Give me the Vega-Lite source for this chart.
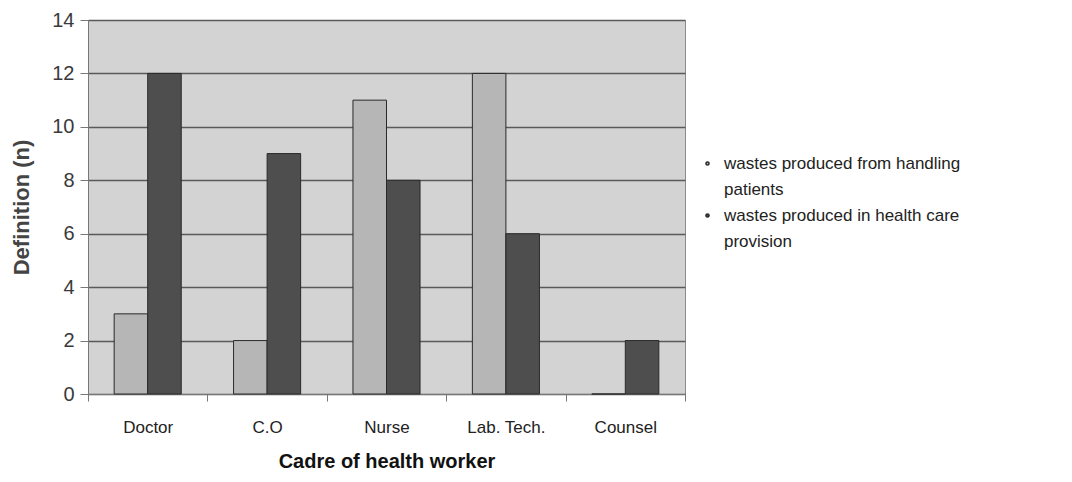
{
  "$schema": "https://vega.github.io/schema/vega-lite/v6.json",
  "width": 597,
  "height": 374,
  "autosize": "none",
  "padding": {"left": 88, "top": 20, "right": 387, "bottom": 88},
  "background": "white",
  "config": {
    "font": "Liberation Sans",
    "view": {"fill": "#d3d3d3", "stroke": "#8a8a8a", "strokeWidth": 1},
    "style": {"guide-label": {"lineHeight": 26}}
  },
  "data": {
    "values": [
      {"cadre": "Doctor", "series": "wastes produced from handling patients", "n": 3},
      {"cadre": "Doctor", "series": "wastes produced in health care provision", "n": 12},
      {"cadre": "C.O", "series": "wastes produced from handling patients", "n": 2},
      {"cadre": "C.O", "series": "wastes produced in health care provision", "n": 9},
      {"cadre": "Nurse", "series": "wastes produced from handling patients", "n": 11},
      {"cadre": "Nurse", "series": "wastes produced in health care provision", "n": 8},
      {"cadre": "Lab. Tech.", "series": "wastes produced from handling patients", "n": 12},
      {"cadre": "Lab. Tech.", "series": "wastes produced in health care provision", "n": 6},
      {"cadre": "Counsel", "series": "wastes produced from handling patients", "n": 0},
      {"cadre": "Counsel", "series": "wastes produced in health care provision", "n": 2}
    ]
  },
  "mark": {"type": "bar", "stroke": "#2a2a2a", "strokeWidth": 1},
  "encoding": {
    "x": {
      "field": "cadre",
      "type": "nominal",
      "sort": ["Doctor", "C.O", "Nurse", "Lab. Tech.", "Counsel"],
      "scale": {"paddingInner": 0, "paddingOuter": 0},
      "axis": {
        "title": "Cadre of health worker",
        "titleFontSize": 20,
        "titleFontWeight": "bold",
        "titleColor": "#111",
        "titlePadding": 16,
        "labelAngle": 0,
        "labelFontSize": 17,
        "labelColor": "#222",
        "labelPadding": 18,
        "tickBand": "extent",
        "tickSize": 7,
        "tickColor": "#777",
        "domainColor": "#777",
        "grid": false
      }
    },
    "xOffset": {
      "field": "series",
      "type": "nominal",
      "sort": ["wastes produced from handling patients", "wastes produced in health care provision"],
      "scale": {"paddingInner": 0, "paddingOuter": 0.78}
    },
    "y": {
      "field": "n",
      "type": "quantitative",
      "scale": {"domain": [0, 14], "nice": false},
      "axis": {
        "title": "Definition (n)",
        "titleFontSize": 22,
        "titleFontWeight": "bold",
        "titleColor": "#444",
        "titlePadding": 18,
        "values": [0, 2, 4, 6, 8, 10, 12, 14],
        "labelFontSize": 20,
        "labelColor": "#3a3a3a",
        "labelPadding": 6,
        "tickSize": 8,
        "tickColor": "#777",
        "domainColor": "#777",
        "grid": true,
        "gridColor": "#5a5a5a",
        "gridWidth": 1.3
      }
    },
    "color": {
      "field": "series",
      "type": "nominal",
      "sort": ["wastes produced from handling patients", "wastes produced in health care provision"],
      "scale": {"range": ["#b6b6b6", "#4e4e4e"]},
      "legend": {
        "title": null,
        "orient": "none",
        "legendX": 611,
        "legendY": 135,
        "symbolType": "circle",
        "symbolSize": 10,
        "labelFontSize": 17,
        "labelColor": "#222",
        "labelLimit": 400,
        "labelOffset": 8,
        "rowPadding": 8,
        "labelExpr": "datum.label == 'wastes produced from handling patients' ? ['wastes produced from handling', 'patients'] : ['wastes produced in health care', 'provision']",
        "encode": {
          "symbols": {"update": {"fill": {"value": "#222"}, "stroke": {"value": "#222"}}}
        }
      }
    }
  }
}
